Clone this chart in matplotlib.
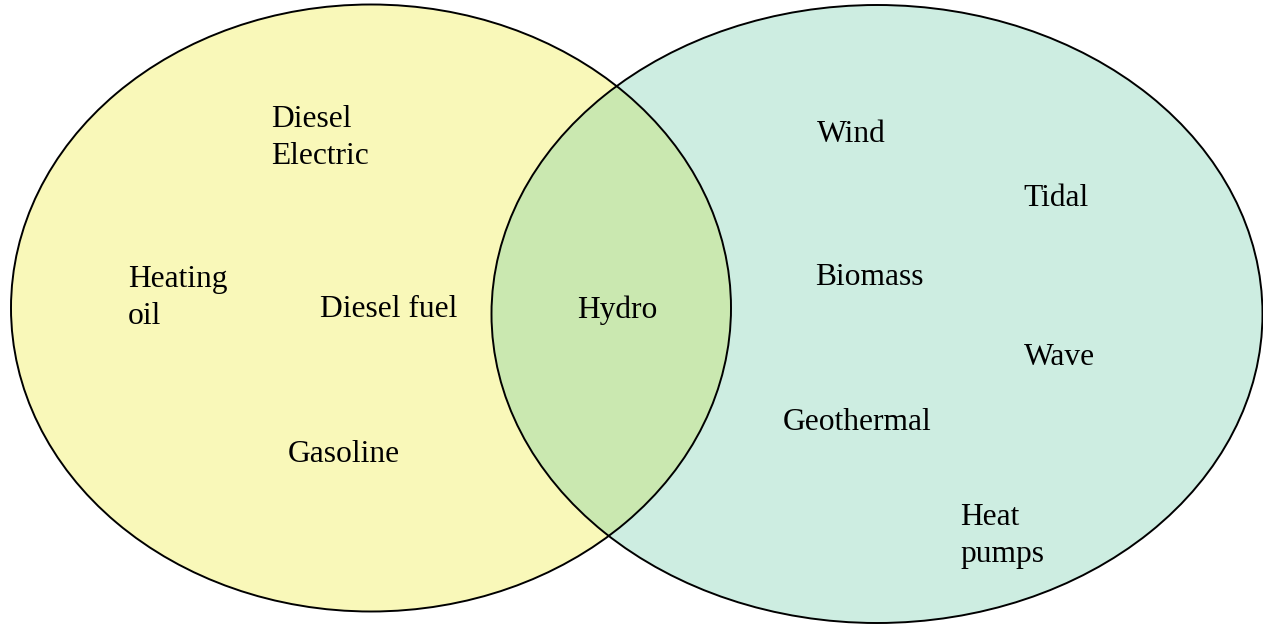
import matplotlib as mpl
mpl.use("Agg")
import matplotlib.pyplot as plt
from matplotlib.patches import Ellipse

# ---- data (pixel coordinates of the original image, y downward) ----
set_names = ["Fossil", "Renewable"]
set_centers = [(371, 308), (877, 314)]
set_sizes = [(720, 607), (771, 618)]
set_colors = ["#f9f8b9", "#cdede1"]
overlap_color = "#cae8b0"

labels = [
    "Diesel\nElectric", "Heating\noil", "Diesel fuel", "Gasoline",
    "Hydro",
    "Wind", "Tidal", "Biomass", "Wave", "Geothermal", "Heat\npumps",
]
label_x = [271, 128, 320, 288, 577, 817, 1023, 815, 1024, 783, 960]
label_y = [127, 287, 317, 462, 318, 142, 206, 285, 365, 430, 525]

LINE_STEP = 37
FONT_SIZE = 22.7

plt.rcParams["font.family"] = ["Liberation Serif", "DejaVu Serif"]

fig = plt.figure(figsize=(12.63, 6.27), dpi=100)
ax = fig.add_axes([0, 0, 1, 1])
ax.set_xlim(0, 1263)
ax.set_ylim(627, 0)
ax.axis("off")

patches = []
for (cx, cy), (w, h), col in zip(set_centers, set_sizes, set_colors):
    e = Ellipse((cx, cy), w, h, facecolor=col, edgecolor="none", zorder=1)
    ax.add_patch(e)
    patches.append(e)

# overlap region: left ellipse clipped to the right one
ov = Ellipse(set_centers[0], *set_sizes[0], facecolor=overlap_color,
             edgecolor="none", zorder=2)
ax.add_patch(ov)
ov.set_clip_path(patches[1])

# outlines on top
for (cx, cy), (w, h) in zip(set_centers, set_sizes):
    ax.add_patch(Ellipse((cx, cy), w, h, facecolor="none",
                         edgecolor="black", lw=1.4, zorder=3))

for txt, x, y in zip(labels, label_x, label_y):
    for k, line in enumerate(txt.split("\n")):
        ax.text(x, y + k * LINE_STEP, line, fontsize=FONT_SIZE,
                ha="left", va="baseline", color="black", zorder=4)

fig.savefig("out.png", dpi=100)
